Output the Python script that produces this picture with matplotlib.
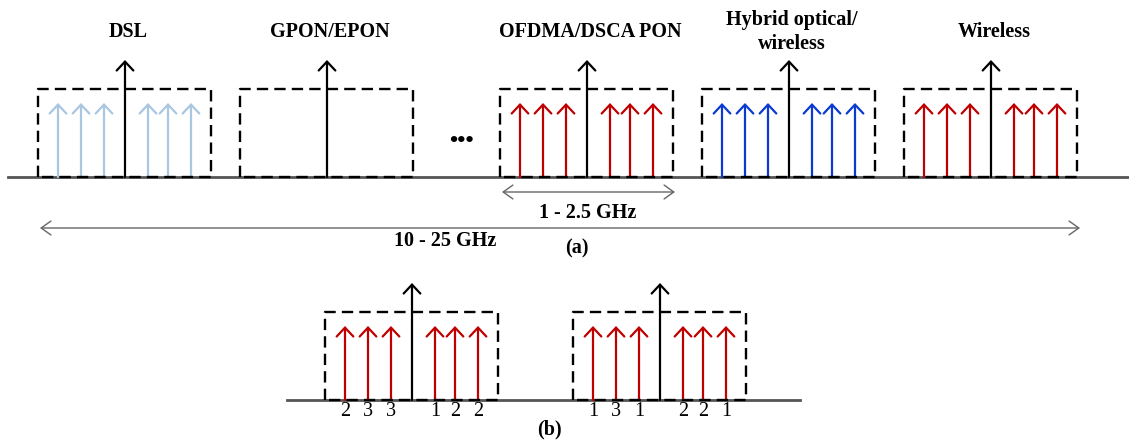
import matplotlib.pyplot as plt

# (a) services sharing the spectrum
services = ["DSL", "GPON/EPON", "OFDMA/DSCA PON", "Hybrid optical/\nwireless", "Wireless"]
box_left = [38, 240, 500, 702, 904]
sub_colors = ["#a9c6e2", None, "#c00000", "#0a3ad2", "#c00000"]

# (b) two channels with per-subcarrier loading
b_left = [325, 573]
b_loads = [[2, 3, 3, 1, 2, 2], [1, 3, 1, 2, 2, 1]]

# geometry of one channel block (pixels)
BOX_W = 173
BOX_H = 88
CENTER = 87
SUB_OFF = [20, 43, 66, 110, 130, 153]
SUB_H = 74
CARRIER_H = 117

BASE_A = 177
BASE_B = 400

fig = plt.figure(figsize=(11.29, 4.40), dpi=100)
ax = fig.add_axes([0, 0, 1, 1])
ax.set_xlim(0, 1129)
ax.set_ylim(440, 0)
ax.axis("off")

serif = "Liberation Serif"
FS = 14.5


def up_arrow(x, y0, h, color, lw=1.6):
    ax.annotate("", xy=(x, y0 - h), xytext=(x, y0),
                arrowprops=dict(arrowstyle="->,head_length=0.32,head_width=0.3",
                                color=color, lw=lw, shrinkA=0, shrinkB=0,
                                mutation_scale=20), zorder=3)


def block(left, base, color):
    # dashed channel box
    xs = [left, left, left + BOX_W, left + BOX_W]
    ys = [base, base - BOX_H, base - BOX_H, base]
    ax.plot(xs + [left], ys + [base], color="black", lw=1.7,
            linestyle=(0, (4.8, 2.6)), zorder=4)
    if color is not None:
        for off in SUB_OFF:
            up_arrow(left + off, base, SUB_H, color)
    up_arrow(left + CENTER, base, CARRIER_H, "black")


def double_arrow(x0, x1, y):
    ax.annotate("", xy=(x0, y), xytext=(x1, y),
                arrowprops=dict(arrowstyle="<->,head_length=0.35,head_width=0.25",
                                color="#666666", lw=1.0, shrinkA=0, shrinkB=0,
                                mutation_scale=20))


# ---- panel (a) ----
ax.plot([8, 1129], [BASE_A, BASE_A], color="#555555", lw=2, zorder=2)
for name, left, col in zip(services, box_left, sub_colors):
    block(left, BASE_A, col)
    ax.text(left + CENTER + 3, 32, name, ha="center", va="center",
            fontsize=FS, fontweight="bold", family=serif, linespacing=1.3)

ax.text(462, 141, "•••", ha="center", va="center", fontsize=17,
        fontweight="bold", family=serif)

double_arrow(502, 675, 192)
ax.text(588, 213, "1 - 2.5 GHz", ha="center", va="center",
        fontsize=FS, fontweight="bold", family=serif)
double_arrow(40, 1080, 228)
ax.text(445, 241, "10 - 25 GHz", ha="center", va="center",
        fontsize=FS, fontweight="bold", family=serif)
ax.text(577, 248, "(a)", ha="center", va="center",
        fontsize=FS, fontweight="bold", family=serif)

# ---- panel (b) ----
ax.plot([287, 800], [BASE_B, BASE_B], color="#555555", lw=2, zorder=2)
for left, loads in zip(b_left, b_loads):
    block(left, BASE_B, "#c00000")
    for off, n in zip(SUB_OFF, loads):
        ax.text(left + off, 412, str(n), ha="center", va="center",
                fontsize=FS, family=serif)
ax.text(549, 429, "(b)", ha="center", va="center",
        fontsize=FS, fontweight="bold", family=serif)

fig.savefig("out.png", dpi=100)
